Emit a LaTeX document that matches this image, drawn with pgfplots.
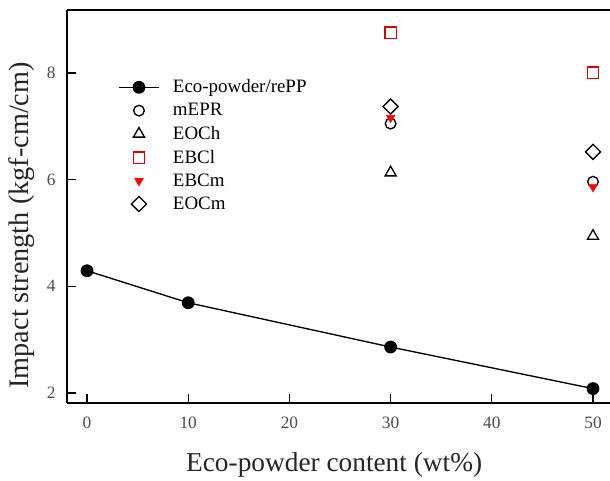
\documentclass[border=0pt]{standalone}
\usepackage{pgfplots}
\pgfplotsset{compat=1.18}
\usepackage{fontspec}
\setmainfont{Liberation Serif}
\pgfplotsset{
  lineleg/.style={legend image code/.code={\draw[##1, mark repeat=2, mark phase=2] plot coordinates {(0pt,0pt) (15pt,0pt) (30pt,0pt)};}},
  markleg/.style={legend image code/.code={\draw[##1] plot coordinates {(15pt,0pt)};}},
}
\begin{document}
\begin{tikzpicture}
\path[use as bounding box] (-50.25pt,-57.75pt) rectangle (407.25pt,302.25pt);
\begin{axis}[
  at={(0,0)}, anchor=south west,
  scale only axis,
  width=407.25pt, height=294.75pt,
  xmin=-1.98, xmax=51.68,
  ymin=1.81, ymax=9.18,
  axis lines=left,
  axis line style={-, line width=1.1pt},
  tick style={line width=1pt, black},
  tick align=inside,
  major tick length=6.5pt,
  xtick={0,10,20,30,40,50},
  ytick={2,4,6,8},
  minor tick num=0,
  /pgf/number format/assume math mode=true,
  tick label style={font=\fontsize{13}{15}\selectfont, color=black!70},
  yticklabel style={xshift=-5pt},
  xticklabel style={yshift=-7pt},
  xlabel={Eco-powder content (wt\%)},
  ylabel={Impact strength (kgf-cm/cm)},
  every axis x label/.style={at={(axis description cs:0.492,-0.158)}, anchor=center,
    font=\fontsize{20.5}{24}\selectfont, color=black!85},
  every axis y label/.style={at={(axis description cs:-0.083,0.452)}, anchor=center, rotate=90,
    font=\fontsize{21.2}{24}\selectfont, color=black!85},
  clip=false,
  legend style={draw=none, fill=none, at={(rel axis cs:0.094,0.83)}, anchor=north west,
    font=\fontsize{14.2}{16}\selectfont, row sep=2.4pt, inner sep=0pt, column sep=8pt},
  legend cell align=left,
]
\draw[line width=1.1pt] (rel axis cs:0,1) -- (rel axis cs:1,1);
\addplot[black, line width=1pt, mark=*, mark size=4.3pt, mark options={solid}, lineleg] coordinates {
  (0,4.29) (10,3.69) (30,2.86) (50,2.08)};
\addlegendentry{Eco-powder/rePP}
\addplot[only marks, black, mark=o, mark size=4pt, mark options={line width=1pt}, markleg] coordinates {
  (30,7.05) (50,5.96)};
\addlegendentry{mEPR}
\addplot[only marks, black, mark=triangle, mark size=4.8pt, mark options={line width=1pt}, markleg] coordinates {
  (30,6.13) (50,4.94)};
\addlegendentry{EOCh}
\addplot[only marks, red!85!black, mark=square, mark size=4.3pt, mark options={line width=1.1pt}, markleg] coordinates {
  (30,8.75) (50,8.0)};
\addlegendentry{EBCl}
\addplot[only marks, red, mark=triangle*, mark size=3.6pt, mark options={rotate=180, line width=0.5pt}, markleg] coordinates {
  (30,7.16) (50,5.86)};
\addlegendentry{EBCm}
\addplot[only marks, black, mark=square, mark size=4pt, mark options={rotate=45, line width=1pt}, markleg] coordinates {
  (30,7.37) (50,6.52)};
\addlegendentry{EOCm}
\end{axis}
\end{tikzpicture}
\end{document}
